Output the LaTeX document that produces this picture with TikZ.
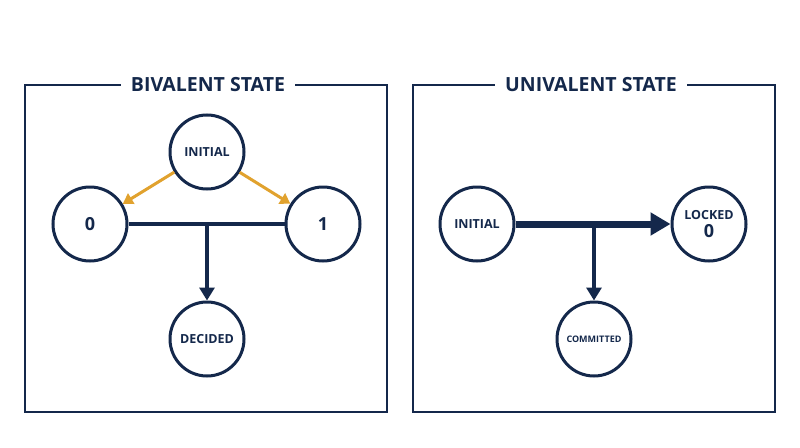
\documentclass[tikz,border=0pt]{standalone}
\usepackage{fontspec}
\setmainfont{Open Sans}
\usetikzlibrary{arrows.meta}
\definecolor{navy}{HTML}{14284B}
\definecolor{gold}{HTML}{E1A22E}
\begin{document}
\begin{tikzpicture}[x=1pt,y=-1pt,
 st/.style={circle,draw=navy,line width=3pt,minimum size=74pt,inner sep=0pt,text=navy,font=\bfseries\fontsize{12.5}{14}\selectfont,align=center,fill=white},
 big/.style={st,font=\bfseries\fontsize{18}{18}\selectfont},
 frame/.style={draw=navy,line width=1.1pt},
 ttl/.style={fill=white,text=navy,font=\bfseries\fontsize{19.5}{20}\selectfont,inner xsep=10pt},
 nav/.style={draw=navy,line width=3.2pt},
 oar/.style={draw=gold,line width=3pt,-{Triangle[length=10pt,width=12pt]}}]
\useasboundingbox[fill=white] (0,0) rectangle (800,447);
\draw[frame] (25,85) rectangle (387,412);
\draw[frame] (413,85) rectangle (775,412);
\node[ttl] (t1) at (208,85) {BIVALENT STATE};
\node[ttl] (t2) at (591,85) {UNIVALENT STATE};
% left
\node[st] (i1) at (207,152) {INITIAL};
\node[big] (z) at (90,224) {0};
\node[big] (o) at (323,224) {1};
\node[st] (d) at (207,339) {DECIDED};
\draw[nav] (z) -- (o);
\coordinate (m1) at (207,224);
\draw[nav,-{Triangle[length=13pt,width=15pt]}] (m1) -- (d);
\draw[oar] (i1) -- (z);
\draw[oar] (i1) -- (o);
% right
\node[st] (i2) at (477,224) {INITIAL};
\node[st,font=\bfseries\fontsize{12.5}{18}\selectfont] (l) at (709,224) {LOCKED\\{\fontsize{18}{18}\selectfont 0}};
\node[st,font=\bfseries\fontsize{9}{10}\selectfont] (c) at (594,339) {COMMITTED};
\draw[draw=navy,line width=7pt,-{Triangle[length=20pt,width=22pt]}] (i2) -- (l);
\coordinate (m2) at (594,224);
\draw[nav,-{Triangle[length=13pt,width=15pt]}] (m2) -- (c);
\end{tikzpicture}
\end{document}
